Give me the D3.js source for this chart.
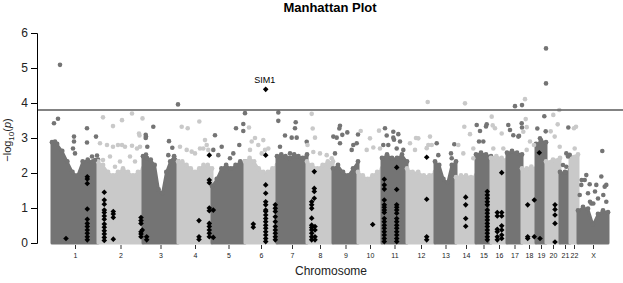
<!DOCTYPE html>
<html><head><meta charset="utf-8">
<script src="https://cdnjs.cloudflare.com/ajax/libs/d3/7.8.5/d3.min.js"></script>
<style>
html,body{margin:0;padding:0;background:#fff;}
svg{display:block;font-family:"Liberation Sans",Arial,sans-serif;}
</style></head>
<body><svg id="chart" width="623" height="283"></svg>
<script>
// ---- data ----
const chromosomes = ["1","2","3","4","5","6","7","8","9","10","11","12","13","14","15","16","17","18","19","20","21","22","X"];
const chromLengths = [46,45,35,34,33,32,30,26,25,24,25,28,21,20,15,16,15,14,10,14,10,8,30];
// upper edge of the dense cloud per chromosome (evenly spaced along the chromosome)
const cloudTop = [
  [2.85,2.8,2.6,2.3,2.0,1.9,2.3,2.35,2.3,2.35],
  [2.3,2.2,2.0,1.9,2.0,2.1,2.0,1.9,2.0,2.1],
  [2.45,2.4,2.35,2.2,1.5,1.4,2.0,2.3,2.45,2.3],
  [2.3,2.3,2.2,2.1,2.0,2.1,2.2,2.2,2.1],
  [1.6,1.8,2.1,2.2,2.1,2.2,2.3,2.3],
  [2.3,2.4,2.3,2.1,2.0,2.0,2.1,2.2],
  [2.45,2.5,2.45,2.4,2.5,2.45,2.4,2.5],
  [2.3,2.2,2.1,2.2,2.3,2.3],
  [2.1,2.2,2.0,1.9,2.1,2.3],
  [2.0,1.9,1.8,1.9,2.0,2.1],
  [2.4,2.5,2.4,2.4,2.5,2.3],
  [2.1,2.0,2.0,1.9,1.9,2.0],
  [2.3,2.2,1.8,1.7,2.2,2.3],
  [1.85,1.9,1.9,1.85,1.9],
  [2.5,2.55,2.5,2.45],
  [2.4,2.45,2.4,2.35],
  [2.55,2.6,2.55,2.5],
  [2.1,2.1,2.15,2.1],
  [2.8,2.9,2.85],
  [2.3,2.35,2.4],
  [2.0,2.0,2.05],
  [2.45,2.5],
  [0.9,1.0,0.95,0.5,0.8,0.9,0.85]
];
// scattered SNPs above the cloud: [chromosome, position within chromosome, -log10 p]
const snps = [
 ["1",2,3.42],["1",6,3.55],["1",8,5.09],["1",22,3.04],["1",22,2.9],["1",21,2.7],["1",23,2.56],["1",35,3.28],["1",35,2.87],["1",40,2.47],["1",43,2.37],["1",44,3.04],["1",45,2.5],["1",3,2.9],
 ["2",5,3.59],["2",15,3.34],["2",24,3.51],["2",34,3.7],["2",41,3.13],["2",41.5,3.07],["2",44.5,3.56],["2",24,2.8],["2",34,2.78],["2",42,2.75],["2",2,2.85],["2",9,2.8],["2",15,2.75],["2",20,2.8],["2",27,2.75],["2",39,2.7],["2",12,2.47],["2",22,2.33],["2",32,2.47],["2",5,2.37],["2",17,2.18],["2",37,2.33],
 ["3",2.7,3.09],["3",2.7,3.0],["3",10.3,3.32],["3",3,3.04],["3",4.3,2.75],["3",3,2.53],["3",26,2.91],["3",29.3,2.72],["3",25.3,2.51],["3",35,3.96],
 ["4",3.7,3.32],["4",9.7,3.28],["4",13.7,2.61],["4",21.3,3.47],["4",27,2.94],["4",25.3,2.7],["4",17,2.56],["4",30.3,2.66],["4",8.7,2.66],["4",22,2.7],["4",2,2.75],["4",28.7,2.8],
 ["5",3,3.08],["5",9.7,2.75],["5",18,2.42],["5",21.3,2.56],["5",24,3.28],["5",31.3,3.4],["5",31.3,3.2],["5",27.3,2.8],["5",33,3.71],["5",1.3,2.66],["5",6.3,2.51],
 ["6",6.7,2.9],["6",13.3,2.8],["6",20,2.66],["6",16.7,2.56],["6",10,3.0],["6",18.3,2.94],["6",23.3,2.7],["6",5,2.66],["6",4,3.3],
 ["7",1.3,3.73],["7",1.3,3.49],["7",8,3.07],["7",14.7,3.01],["7",19.7,3.01],["7",18.7,3.45],["7",18,3.28],["7",13,2.56],["7",19.7,2.47],["7",3,2.75],["7",29.7,2.89],
 ["8",4.7,3.69],["8",5.7,3.27],["8",8,3.01],["8",0.5,2.8],["8",6.3,2.6],["8",13,2.56],["8",19.7,2.51],["8",24.7,2.42],
 ["9",7,3.35],["9",9.3,3.09],["9",3.7,3.01],["9",2,2.56],["9",7,2.85],["9",20.3,2.8],["9",23.7,2.85],["9",18.7,2.66],["9",0.3,3.04],["9",6.3,3.27],["9",14.3,3.16],["9",25,3.1],
 ["10",2.7,3.2],["10",12,2.99],["10",15.3,2.73],["10",22,2.7],["10",8.7,2.66],["10",21,3.21],
 ["11",3,3.28],["11",11.3,3.18],["11",16.3,3.11],["11",11.3,3.01],["11",18,2.9],["11",1.3,2.8],["11",14.7,2.7],["11",4.7,3.07],["11",12,2.95],["11",6.3,2.8],["11",21.3,2.66],
 ["12",11.3,2.99],["12",23,3.04],["12",21.3,2.8],["12",8,2.66],["12",20.7,4.03],["12",3,2.85],["12",19.7,2.71],["12",24.7,2.8],["12",9,3.0],
 ["13",1.7,2.85],["13",3.3,2.51],["13",19.3,2.82],["13",16,2.56],["13",16.7,2.42],
 ["14",9,3.99],["14",8.3,3.32],["14",14,3.11],["14",2.3,2.8],["14",17.3,2.7],["14",7.3,2.56],["14",17.3,2.42],
 ["15",0.7,3.37],["15",4,3.2],["15",10.7,3.39],["15",10,3.33],["15",3,2.9],["15",7.3,2.9],
 ["16",0.7,3.61],["16",4,3.28],["16",10.7,3.13],["16",2.3,2.7],["16",12.3,2.7],["16",1.7,3.36],
 ["17",1.3,3.37],["17",3,3.23],["17",6.3,3.08],["17",11.3,3.04],["17",14.7,3.42],["17",15,3.3],["17",8,3.91],["17",15,3.94],["17",12,3.06],
 ["18",3,4.11],["18",3.7,3.54],["18",4.7,3.31],["18",1.3,3.18],["18",4.7,2.66],["18",8,2.9],["18",12,2.8],
 ["19",10,5.56],["19",10,4.56],["19",8.3,3.62],["19",9.7,3.19],["19",1.3,3.27],["19",4,2.99],
 ["20",7.3,3.66],["20",13.3,3.8],["20",11.7,3.39],["20",4.7,3.19],["20",8.7,3.04],["20",13.7,2.75],
 ["21",8.3,3.3],["21",6.3,2.56],["21",8,2.47],["21",3,2.23],["21",6.3,2.18],["21",9.7,2.52],
 ["22",4,3.28],["22",6,3.32],["22",4.7,2.7],
 ["X",8.3,1.94],["X",6.7,1.8],["X",3.3,1.66],["X",11.7,1.68],["X",10,1.42],["X",1.7,1.37],["X",13.3,1.13],["X",24.3,2.63],["X",23.3,1.9],["X",18.3,1.66],["X",26.7,1.61],["X",28.3,1.66],["X",25.3,1.37],["X",20,1.27],["X",28.3,1.18],["X",3.7,1.8],["X",17,1.47],["X",12,1.18],["X",15.3,1.13]
];
// highlighted SNPs (black diamonds): [chromosome, position, values...]
const highlightColumns = [
 ["1",14,[0.13]],
 ["1",35.3,[1.89,1.83,1.70,0.97,0.68,0.56,0.47,0.37,0.28,0.18,0.09]],
 ["2",6.3,[1.45,1.23,1.11,0.94,0.87,0.77,0.68,0.54,0.45,0.35,0.26,0.16,0.07]],
 ["2",15.3,[0.9,0.83,0.73,0.11]],
 ["2",43,[0.73,0.64,0.56,0.32,0.26,0.18]],
 ["2",44.3,[0.37]],
 ["3",3.7,[0.18,0.09]],
 ["4",21,[0.64,0.18,0.1]],
 ["4",31.3,[2.51,1.8,1.72,1.0,0.92,0.56,0.47,0.37,0.28,0.18]],
 ["5",1.3,[0.94,0.16]],
 ["6",8.3,[0.54,0.45]],
 ["6",20.7,[2.51,1.66,1.42,1.18,1.09,0.94,0.9,0.8,0.7,0.61,0.51,0.42,0.32,0.23,0.13,0.04]],
 ["6",30.3,[1.09,0.99,0.9,0.75,0.61,0.47,0.37,0.28,0.18,0.09]],
 ["8",7.3,[2.04,1.56,1.47,1.28]],
 ["8",4.7,[1.18,1.09,0.99,0.71,0.51,0.44,0.37,0.28,0.18,0.09]],
 ["8",8,[0.47,0.37,0.18,0.09]],
 ["10",14.7,[0.53]],
 ["11",2.3,[1.82,1.66,1.54,1.23,1.09,1.02,0.94,0.87,0.7,0.61,0.51,0.42,0.32,0.23,0.13,0.04]],
 ["11",14.7,[2.16,1.53,1.09,1.02,0.94,0.85,0.7,0.61,0.51,0.42,0.32,0.23,0.13,0.04]],
 ["12",19.7,[2.45,1.25,0.18,0.09]],
 ["14",9.7,[1.31,1.09,0.70,0.48]],
 ["15",11.3,[1.47,1.37,1.28,1.18,1.09,0.94,0.85,0.75,0.66,0.56,0.47,0.37,0.28,0.18,0.09]],
 ["16",6.3,[0.87,0.77,0.39,0.32,0.18,0.09]],
 ["16",10.7,[2.01,0.87,0.77,0.49,0.37,0.23,0.13]],
 ["18",5.7,[1.09,0.18,0.13]],
 ["18",12.3,[1.23,0.18]],
 ["19",3.3,[2.58]],
 ["19",4,[0.13]],
 ["20",9,[1.09,0.96,0.8,0.56,0.03]]
];
const topGene = {label:"SIM1", chrom:"6", pos:20.7, value:4.39};
const threshold = 3.8;
const yTicks = [0,1,2,3,4,5,6];

// ---- layout ----
const svg = d3.select("#chart");
const darkCol = "#747474", lightCol = "#c9c9c9";
const starts = [];
let acc = 0;
chromLengths.forEach(l => { starts.push(acc); acc += l; });
const total = acc;
const x = d3.scaleLinear().domain([0,total]).range([52,608]);
const y = d3.scaleLinear().domain([0,6]).range([243,33]);
const idx = c => chromosomes.indexOf(c);
const col = i => (i % 2 === 0 ? darkCol : lightCol);
const gx = (c,p) => x(starts[idx(c)] + p);

// clouds
const area = d3.area().x(d=>x(d[0])).y0(y(0)).y1(d=>y(d[1]));
chromosomes.forEach((c,i)=>{
  const t = cloudTop[i], n = t.length;
  const pts = t.map((v,k)=>[starts[i] + chromLengths[i]*k/(n-1), v]);
  svg.append("path").datum(pts).attr("d", area).attr("fill", col(i))
     .attr("stroke", col(i)).attr("stroke-width", 3).attr("stroke-linejoin","round");
  svg.append("g").selectAll("circle").data(pts).join("circle")
     .attr("cx", d=>x(d[0])).attr("cy", d=>y(d[1])-1).attr("r", 2.4).attr("fill", col(i));
});
// scattered points
svg.append("g").selectAll("circle").data(snps).join("circle")
  .attr("cx", d=>gx(d[0],d[1])).attr("cy", d=>y(d[2])).attr("r", 2.3)
  .attr("fill", d=>col(idx(d[0])));

// threshold line
svg.append("line").attr("x1",37).attr("x2",623).attr("y1",y(threshold)).attr("y2",y(threshold))
  .attr("stroke","#5a5a5a").attr("stroke-width",1.3);

// diamonds
const diamonds = [];
highlightColumns.forEach(([c,p,vals])=>vals.forEach(v=>diamonds.push([c,p,v])));
diamonds.push([topGene.chrom, topGene.pos, topGene.value]);
const sym = d3.symbol().type(d3.symbolDiamond2).size(20);
svg.append("g").selectAll("path").data(diamonds).join("path")
  .attr("d", sym).attr("transform", d=>`translate(${gx(d[0],d[1])},${y(d[2])})`)
  .attr("fill","#000");
svg.append("text").attr("x", gx(topGene.chrom, topGene.pos)-1).attr("y", y(topGene.value)-6)
  .attr("text-anchor","middle").attr("font-size",9).text(topGene.label);

// y axis
const yAxis = svg.append("g").attr("transform","translate(37,0)")
  .call(d3.axisLeft(y).tickValues(yTicks).tickSize(6).tickPadding(3).tickFormat(d3.format("d")));
yAxis.select(".domain").attr("stroke","#000");
yAxis.selectAll("text").attr("font-size",12).attr("font-family","Liberation Sans, Arial, sans-serif").attr("fill","#222");

// x axis (ticks at chromosome centres, no baseline)
const centres = chromosomes.map((c,i)=>starts[i] + chromLengths[i]/2);
const xAxis = svg.append("g").attr("transform","translate(0,245)")
  .call(d3.axisBottom(x).tickValues(centres).tickSize(4).tickPadding(4).tickFormat((d,i)=>chromosomes[i]));
xAxis.select(".domain").remove();
xAxis.selectAll("text").attr("font-size",7).attr("font-family","Liberation Sans, Arial, sans-serif").attr("fill","#222");
xAxis.selectAll("line").attr("stroke","#333");

// titles
svg.append("text").attr("x",330).attr("y",12).attr("text-anchor","middle")
  .attr("font-size",13).attr("font-weight","bold").text("Manhattan Plot");
svg.append("text").attr("x",331).attr("y",275).attr("text-anchor","middle")
  .attr("font-size",12).attr("fill","#222").text("Chromosome");
const yl = svg.append("text").attr("transform","translate(11,140) rotate(-90)")
  .attr("text-anchor","middle").attr("font-size",11).attr("fill","#222");
yl.append("tspan").text("\u2212log");
yl.append("tspan").attr("font-size",8).attr("dy",3).text("10");
yl.append("tspan").attr("dy",-3).text("(");
yl.append("tspan").attr("font-style","italic").text("p");
yl.append("tspan").text(")");
</script>
</body></html>
